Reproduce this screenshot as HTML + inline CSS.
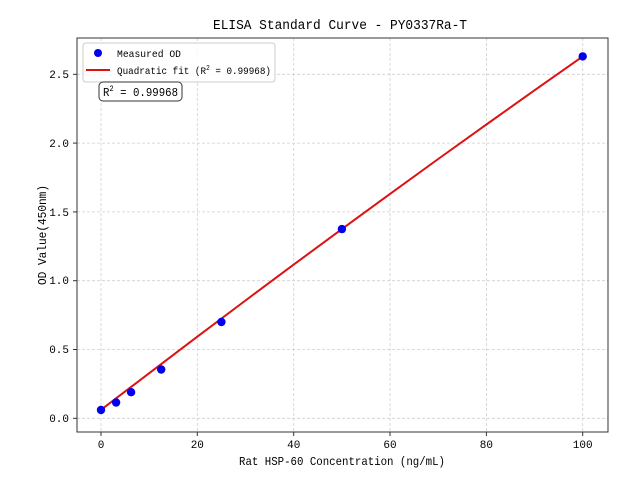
<!DOCTYPE html>
<html><head><style>body{margin:0;background:#fff}svg{display:block}text{font-family:"Liberation Mono","WenQuanYi Zen Hei",monospace;fill:#000}</style></head><body>
<svg width="640" height="480" viewBox="0 0 640 480">
<rect x="0" y="0" width="640" height="480" fill="#fff"/>
<g stroke="#cfcfcf" stroke-width="0.8" stroke-dasharray="3,2">
<line x1="101" y1="38" x2="101" y2="432"/><line x1="197.3" y1="38" x2="197.3" y2="432"/><line x1="293.7" y1="38" x2="293.7" y2="432"/><line x1="390" y1="38" x2="390" y2="432"/><line x1="486.4" y1="38" x2="486.4" y2="432"/><line x1="582.7" y1="38" x2="582.7" y2="432"/>
<line x1="77" y1="418.3" x2="608" y2="418.3"/><line x1="77" y1="349.5" x2="608" y2="349.5"/><line x1="77" y1="280.7" x2="608" y2="280.7"/><line x1="77" y1="211.9" x2="608" y2="211.9"/><line x1="77" y1="143.1" x2="608" y2="143.1"/><line x1="77" y1="74.3" x2="608" y2="74.3"/>
</g>
<polyline fill="none" stroke="#dd1111" stroke-width="2" points="101,409.8 149.2,373.2 197.3,336.7 245.5,300.5 293.7,264.6 341.9,229.1 390,193.9 438.2,159 486.4,124.5 534.5,90.3 582.7,56.4"/>
<g fill="#0000ee">
<circle cx="101" cy="410" r="4.2"/><circle cx="116.1" cy="402.5" r="4.2"/><circle cx="131.1" cy="392.2" r="4.2"/><circle cx="161.2" cy="369.5" r="4.2"/><circle cx="221.4" cy="322" r="4.2"/><circle cx="341.9" cy="229.1" r="4.2"/><circle cx="582.7" cy="56.4" r="4.2"/>
</g>
<rect x="77" y="38" width="531" height="394" fill="none" stroke="#333" stroke-width="1"/>
<g stroke="#333" stroke-width="1">
<line x1="101" y1="432" x2="101" y2="436"/><line x1="197.3" y1="432" x2="197.3" y2="436"/><line x1="293.7" y1="432" x2="293.7" y2="436"/><line x1="390" y1="432" x2="390" y2="436"/><line x1="486.4" y1="432" x2="486.4" y2="436"/><line x1="582.7" y1="432" x2="582.7" y2="436"/>
<line x1="73" y1="418.3" x2="77" y2="418.3"/><line x1="73" y1="349.5" x2="77" y2="349.5"/><line x1="73" y1="280.7" x2="77" y2="280.7"/><line x1="73" y1="211.9" x2="77" y2="211.9"/><line x1="73" y1="143.1" x2="77" y2="143.1"/><line x1="73" y1="74.3" x2="77" y2="74.3"/>
</g>
<g font-size="11" text-anchor="middle">
<text x="101" y="448">0</text><text x="197.3" y="448">20</text><text x="293.7" y="448">40</text><text x="390" y="448">60</text><text x="486.4" y="448">80</text><text x="582.7" y="448">100</text>
</g>
<g font-size="11" text-anchor="end">
<text x="69" y="422">0.0</text><text x="69" y="353">0.5</text><text x="69" y="284">1.0</text><text x="69" y="216">1.5</text><text x="69" y="147">2.0</text><text x="69" y="78">2.5</text>
</g>
<text x="342" y="465" font-size="12" text-anchor="middle" textLength="206" lengthAdjust="spacingAndGlyphs">Rat HSP-60 Concentration (ng/mL)</text>
<text transform="translate(46,235) rotate(-90)" font-size="12" text-anchor="middle" textLength="100" lengthAdjust="spacingAndGlyphs">OD Value(450nm)</text>
<text x="340" y="29" font-size="13.5" text-anchor="middle" textLength="254" lengthAdjust="spacingAndGlyphs">ELISA Standard Curve - PY0337Ra-T</text>
<rect x="83" y="43" width="192" height="39" rx="3" fill="#fff" fill-opacity="0.85" stroke="#ccc"/>
<circle cx="98" cy="53" r="4" fill="#0000ee"/>
<line x1="86" y1="70" x2="110" y2="70" stroke="#dd1111" stroke-width="2"/>
<text x="117" y="57" font-size="10.5" textLength="64" lengthAdjust="spacingAndGlyphs">Measured OD</text>
<text x="117" y="74" font-size="10.5" textLength="154" lengthAdjust="spacingAndGlyphs">Quadratic fit (R<tspan font-size="7" dy="-4">2</tspan><tspan dy="4"> = 0.99968)</tspan></text>
<rect x="99" y="82" width="83" height="19" rx="4" fill="#fff" stroke="#333"/>
<text x="103" y="96" font-size="12" textLength="75" lengthAdjust="spacingAndGlyphs">R<tspan font-size="8" dy="-5">2</tspan><tspan dy="5"> = 0.99968</tspan></text>
</svg>
</body></html>
